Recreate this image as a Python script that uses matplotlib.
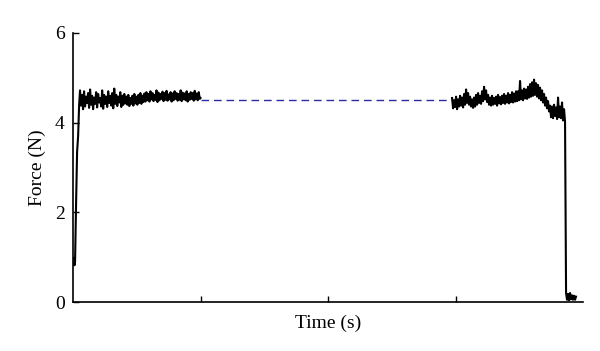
import numpy as np
import matplotlib
matplotlib.use("Agg")
import matplotlib.pyplot as plt

plt.rcParams['font.family'] = ['Liberation Serif', 'DejaVu Serif']

# ---- data (time in axis units 0..4, force in N) ----
rise_t = [0.008, 0.012, 0.016, 0.024, 0.032, 0.040, 0.048]
rise_f = [0.98, 0.82, 0.90, 2.2, 3.35, 3.7, 4.4]

# first hold: upper / lower peaks of the noisy trace, read in order
left_t_range = (0.055, 0.994)
left_upper = [
    4.72, 4.62, 4.70, 4.58, 4.66, 4.74, 4.60, 4.56, 4.68, 4.64,
    4.55, 4.72, 4.62, 4.58, 4.70, 4.60, 4.66, 4.76, 4.62, 4.58,
    4.68, 4.60, 4.64,
    4.58, 4.62, 4.55, 4.60, 4.64, 4.58, 4.62, 4.66, 4.60, 4.65,
    4.68, 4.64, 4.70, 4.66, 4.62, 4.72, 4.67, 4.64, 4.69, 4.66,
    4.71, 4.63, 4.68, 4.65, 4.70, 4.66, 4.64, 4.72, 4.67, 4.65,
    4.70, 4.64, 4.68, 4.66, 4.71, 4.65, 4.68,
]
left_lower = [
    4.38, 4.30, 4.36, 4.44, 4.33, 4.40, 4.30, 4.42, 4.34, 4.45,
    4.36, 4.31, 4.42, 4.35, 4.44, 4.38, 4.32, 4.42, 4.37, 4.45,
    4.35, 4.40, 4.43,
    4.40, 4.37, 4.42, 4.38, 4.43, 4.40, 4.44, 4.42, 4.46, 4.47,
    4.50, 4.47, 4.52, 4.48, 4.51, 4.46, 4.50, 4.53, 4.48, 4.51,
    4.49, 4.52, 4.47, 4.50, 4.53, 4.49, 4.51, 4.48, 4.52, 4.50,
    4.47, 4.51, 4.53, 4.49, 4.52, 4.50, 4.53,
]
left_end_t = 1.0
left_end_f = 4.55

gap_t = [1.0, 2.99]
gap_f = [4.5, 4.5]

# second hold: upper / lower peaks of the noisy trace, read in order
right_t_range = (2.973, 3.859)
right_upper = [
    4.55, 4.50, 4.58, 4.52, 4.60, 4.56, 4.64,
    4.74, 4.66, 4.58, 4.52, 4.56,
    4.62, 4.66, 4.60, 4.70, 4.80, 4.72, 4.62,
    4.56, 4.60, 4.55, 4.58, 4.62, 4.57, 4.60, 4.64, 4.60, 4.66, 4.62, 4.68, 4.65, 4.70,
    4.70, 4.93, 4.72, 4.76, 4.74, 4.80, 4.86, 4.90, 4.96, 4.88, 4.84, 4.78,
    4.72, 4.64, 4.56, 4.48,
    4.38, 4.36, 4.40, 4.34, 4.56, 4.36, 4.45, 4.30,
]
right_lower = [
    4.32, 4.35, 4.30, 4.36, 4.38, 4.34, 4.40,
    4.44, 4.40, 4.36, 4.33, 4.36,
    4.40, 4.44, 4.42, 4.48, 4.52, 4.46, 4.40,
    4.38, 4.40, 4.42, 4.38, 4.43, 4.41, 4.44, 4.42, 4.45, 4.43, 4.46, 4.45, 4.47, 4.48,
    4.50, 4.52, 4.50, 4.54, 4.53, 4.56, 4.58, 4.60, 4.62, 4.58, 4.54, 4.50,
    4.45, 4.38, 4.32, 4.25,
    4.12, 4.10, 4.15, 4.08, 4.12, 4.10, 4.05, 4.02,
]

tail_t_range = (3.867, 3.945)
tail_f = [0.2, 0.05, 0.18, 0.04, 0.2, 0.06, 0.15, 0.05, 0.14, 0.05, 0.12]

x_ticks = [1, 2, 3]
y_ticks = [0, 2, 4, 6]

# ---- build series ----
left_f = np.column_stack([left_upper, left_lower]).ravel()
right_f = np.column_stack([right_upper, right_lower]).ravel()
left_t = np.linspace(*left_t_range, len(left_f))
right_t = np.linspace(*right_t_range, len(right_f))
tail_t = np.linspace(*tail_t_range, len(tail_f))

seg1_t = np.concatenate([rise_t, left_t, [left_end_t]])
seg1_f = np.concatenate([rise_f, left_f, [left_end_f]])
seg2_t = np.concatenate([right_t, tail_t])
seg2_f = np.concatenate([right_f, tail_f])

fig = plt.figure(figsize=(6.0, 3.51), dpi=100)
ax = fig.add_axes([0.1217, 0.1396, 0.85, 0.7664])

ax.plot(gap_t, gap_f, color='#2b2ba6', lw=1.0, ls=(0, (5.5, 3.5)), zorder=2)
ax.plot(seg1_t, seg1_f, color='black', lw=1.5, zorder=3)
ax.plot(seg2_t, seg2_f, color='black', lw=1.5, zorder=3)

ax.set_xlim(0, 4)
ax.set_ylim(0, 6)
ax.set_xticks(x_ticks)
ax.set_xticklabels([])
ax.set_yticks(y_ticks)
ax.set_yticklabels([str(v) for v in y_ticks], fontsize=14)
ax.tick_params(direction='in', length=4, width=1, color='black', pad=6)
for s in ['top', 'right']:
    ax.spines[s].set_visible(False)
for s in ['left', 'bottom']:
    ax.spines[s].set_linewidth(1.2)

ax.set_xlabel('Time (s)', fontsize=14, labelpad=3)
ax.set_ylabel('Force (N)', fontsize=14, labelpad=6)

fig.savefig('out.png', dpi=100)
